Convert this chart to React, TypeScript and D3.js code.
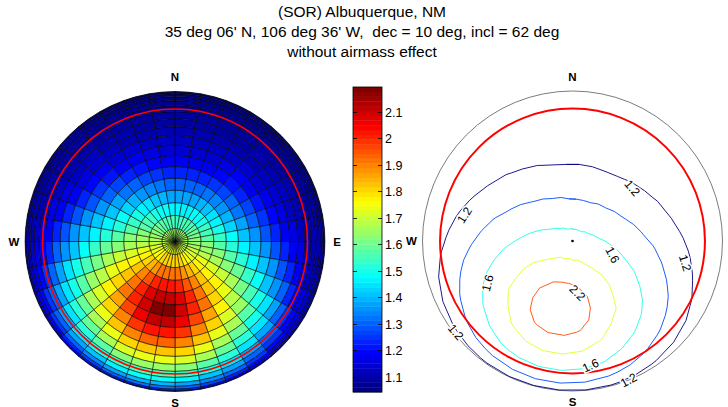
import React, { useEffect, useRef } from 'react'
import * as d3 from 'd3'

// title text
const titleLines = [
  '(SOR) Albuquerque, NM',
  "35 deg 06' N, 106 deg 36' W,  dec = 10 deg, incl = 62 deg",
  'without airmass effect',
]

// magnetic inclination (red circle, zenith angle in deg)
const inclination = 62

// colour limits of the colorbar
const cLimits = [1.043, 2.194]
const colorbarTicks = [1.1, 1.2, 1.3, 1.4, 1.5, 1.6, 1.7, 1.8, 1.9, 2, 2.1]

// contour levels on the right panel
const contourLevels = [1.2, 1.4, 1.6, 1.8, 2.0, 2.2]

// labels on the contour plot: azimuth / zenith angle of the label, rotation
const contourLabels = [
  { text: '1.2', az: 48.5, zen: 32.2, rot: 50 },
  { text: '1.2', az: 283.5, zen: 47.8, rot: -58 },
  { text: '1.2', az: 101, zen: 50, rot: 73 },
  { text: '1.2', az: 232, zen: 80.7, rot: 50 },
  { text: '1.2', az: 158, zen: 89, rot: -28 },
  { text: '1.6', az: 109, zen: 16.4, rot: 62 },
  { text: '1.6', az: 243.7, zen: 39.2, rot: -75 },
  { text: '1.6', az: 171.8, zen: 57, rot: -25 },
  { text: '2.2', az: 174.5, zen: 20.3, rot: 45 },
]

// cell values, one row per 5 deg zenith ring (centre outwards),
// 36 sectors of 10 deg each, clockwise from north
const ring00 = [1.64, 1.64, 1.64, 1.64, 1.64, 1.65, 1.65, 1.66, 1.66, 1.67, 1.68, 1.69, 1.69, 1.70, 1.71, 1.71, 1.72, 1.72, 1.72, 1.72, 1.72, 1.72, 1.71, 1.71, 1.70, 1.69, 1.69, 1.68, 1.67, 1.66, 1.66, 1.65, 1.65, 1.64, 1.64, 1.64]
const ring01 = [1.54, 1.54, 1.55, 1.55, 1.56, 1.58, 1.59, 1.61, 1.63, 1.65, 1.67, 1.70, 1.72, 1.74, 1.76, 1.78, 1.80, 1.80, 1.81, 1.81, 1.80, 1.80, 1.78, 1.76, 1.74, 1.72, 1.70, 1.67, 1.65, 1.63, 1.61, 1.59, 1.58, 1.56, 1.55, 1.55]
const ring02 = [1.46, 1.46, 1.47, 1.48, 1.49, 1.51, 1.53, 1.55, 1.58, 1.62, 1.65, 1.69, 1.73, 1.77, 1.80, 1.84, 1.88, 1.91, 1.92, 1.92, 1.91, 1.88, 1.84, 1.80, 1.77, 1.73, 1.69, 1.65, 1.62, 1.58, 1.55, 1.53, 1.51, 1.49, 1.48, 1.47]
const ring03 = [1.38, 1.38, 1.38, 1.40, 1.41, 1.44, 1.46, 1.50, 1.53, 1.57, 1.62, 1.67, 1.72, 1.78, 1.83, 1.89, 1.95, 2.00, 2.02, 2.02, 2.00, 1.95, 1.89, 1.83, 1.78, 1.72, 1.67, 1.62, 1.57, 1.53, 1.50, 1.46, 1.44, 1.41, 1.40, 1.38]
const ring04 = [1.30, 1.30, 1.31, 1.32, 1.34, 1.36, 1.39, 1.43, 1.48, 1.52, 1.57, 1.63, 1.70, 1.77, 1.83, 1.92, 2.00, 2.07, 2.11, 2.11, 2.07, 2.00, 1.92, 1.83, 1.77, 1.70, 1.63, 1.57, 1.52, 1.48, 1.43, 1.39, 1.36, 1.34, 1.32, 1.31]
const ring05 = [1.24, 1.24, 1.24, 1.25, 1.27, 1.30, 1.33, 1.37, 1.41, 1.47, 1.52, 1.59, 1.66, 1.73, 1.81, 1.91, 2.00, 2.09, 2.18, 2.18, 2.09, 2.00, 1.91, 1.81, 1.73, 1.66, 1.59, 1.52, 1.47, 1.41, 1.37, 1.33, 1.30, 1.27, 1.25, 1.24]
const ring06 = [1.18, 1.18, 1.18, 1.19, 1.21, 1.24, 1.27, 1.31, 1.35, 1.41, 1.47, 1.54, 1.61, 1.69, 1.78, 1.87, 1.97, 2.06, 2.12, 2.12, 2.06, 1.97, 1.87, 1.78, 1.69, 1.61, 1.54, 1.47, 1.41, 1.35, 1.31, 1.27, 1.24, 1.21, 1.19, 1.18]
const ring07 = [1.15, 1.15, 1.15, 1.16, 1.17, 1.18, 1.21, 1.25, 1.29, 1.35, 1.41, 1.48, 1.56, 1.64, 1.72, 1.80, 1.90, 1.99, 2.03, 2.03, 1.99, 1.90, 1.80, 1.72, 1.64, 1.56, 1.48, 1.41, 1.35, 1.29, 1.25, 1.21, 1.18, 1.17, 1.16, 1.15]
const ring08 = [1.12, 1.12, 1.12, 1.13, 1.14, 1.15, 1.17, 1.19, 1.24, 1.29, 1.35, 1.42, 1.50, 1.58, 1.66, 1.74, 1.82, 1.89, 1.94, 1.94, 1.89, 1.82, 1.74, 1.66, 1.58, 1.50, 1.42, 1.35, 1.29, 1.24, 1.19, 1.17, 1.15, 1.14, 1.13, 1.12]
const ring09 = [1.10, 1.10, 1.10, 1.11, 1.11, 1.12, 1.14, 1.16, 1.18, 1.24, 1.29, 1.36, 1.44, 1.51, 1.59, 1.67, 1.74, 1.80, 1.83, 1.83, 1.80, 1.74, 1.67, 1.59, 1.51, 1.44, 1.36, 1.29, 1.24, 1.18, 1.16, 1.14, 1.12, 1.11, 1.11, 1.10]
const ring10 = [1.09, 1.09, 1.09, 1.09, 1.10, 1.10, 1.12, 1.13, 1.16, 1.18, 1.24, 1.30, 1.37, 1.45, 1.52, 1.59, 1.66, 1.71, 1.74, 1.74, 1.71, 1.66, 1.59, 1.52, 1.45, 1.37, 1.30, 1.24, 1.18, 1.16, 1.13, 1.12, 1.10, 1.10, 1.09, 1.09]
const ring11 = [1.08, 1.08, 1.08, 1.08, 1.09, 1.09, 1.10, 1.11, 1.13, 1.16, 1.18, 1.24, 1.31, 1.38, 1.45, 1.52, 1.58, 1.62, 1.64, 1.64, 1.62, 1.58, 1.52, 1.45, 1.38, 1.31, 1.24, 1.18, 1.16, 1.13, 1.11, 1.10, 1.09, 1.09, 1.08, 1.08]
const ring12 = [1.07, 1.07, 1.07, 1.07, 1.08, 1.08, 1.09, 1.10, 1.11, 1.13, 1.16, 1.19, 1.25, 1.31, 1.38, 1.45, 1.50, 1.54, 1.56, 1.56, 1.54, 1.50, 1.45, 1.38, 1.31, 1.25, 1.19, 1.16, 1.13, 1.11, 1.10, 1.09, 1.08, 1.08, 1.07, 1.07]
const ring13 = [1.07, 1.07, 1.07, 1.07, 1.07, 1.07, 1.08, 1.09, 1.10, 1.11, 1.13, 1.16, 1.20, 1.25, 1.31, 1.37, 1.42, 1.46, 1.48, 1.48, 1.46, 1.42, 1.37, 1.31, 1.25, 1.20, 1.16, 1.13, 1.11, 1.10, 1.09, 1.08, 1.07, 1.07, 1.07, 1.07]
const ring14 = [1.06, 1.06, 1.06, 1.06, 1.06, 1.07, 1.07, 1.08, 1.09, 1.10, 1.11, 1.14, 1.16, 1.20, 1.25, 1.30, 1.34, 1.37, 1.39, 1.39, 1.37, 1.34, 1.30, 1.25, 1.20, 1.16, 1.14, 1.11, 1.10, 1.09, 1.08, 1.07, 1.07, 1.06, 1.06, 1.06]
const ring15 = [1.06, 1.06, 1.06, 1.06, 1.06, 1.06, 1.07, 1.07, 1.08, 1.09, 1.10, 1.11, 1.14, 1.16, 1.19, 1.23, 1.27, 1.30, 1.32, 1.32, 1.30, 1.27, 1.23, 1.19, 1.16, 1.14, 1.11, 1.10, 1.09, 1.08, 1.07, 1.07, 1.06, 1.06, 1.06, 1.06]
const ring16 = [1.05, 1.05, 1.05, 1.05, 1.05, 1.06, 1.06, 1.07, 1.07, 1.08, 1.09, 1.10, 1.11, 1.14, 1.16, 1.18, 1.21, 1.23, 1.24, 1.24, 1.23, 1.21, 1.18, 1.16, 1.14, 1.11, 1.10, 1.09, 1.08, 1.07, 1.07, 1.06, 1.06, 1.05, 1.05, 1.05]
const ring17 = [1.04, 1.04, 1.05, 1.05, 1.05, 1.05, 1.06, 1.06, 1.07, 1.07, 1.08, 1.09, 1.10, 1.11, 1.13, 1.15, 1.17, 1.18, 1.18, 1.18, 1.18, 1.17, 1.15, 1.13, 1.11, 1.10, 1.09, 1.08, 1.07, 1.07, 1.06, 1.06, 1.05, 1.05, 1.05, 1.05]

const rings = [ring00, ring01, ring02, ring03, ring04, ring05, ring06, ring07, ring08,
  ring09, ring10, ring11, ring12, ring13, ring14, ring15, ring16, ring17]

const ZEN_STEP = 5
const AZ_STEP = 10

const W = 728
const H = 407
const R = 150
const leftC = { cx: 175, cy: 241.5 }
const rightC = { cx: 572.5, cy: 241 }
const bar = { x: 353, y: 87, w: 29, h: 305 }
const font = 'Liberation Sans, Arial, sans-serif'

const toRad = (d: number) => d * Math.PI / 180

// MATLAB jet
const jet = (t: number) => {
  const c = (v: number) => Math.max(0, Math.min(1, v)) * 255
  return d3.rgb(c(1.5 - Math.abs(4 * t - 3)), c(1.5 - Math.abs(4 * t - 2)), c(1.5 - Math.abs(4 * t - 1))).formatHex()
}

const App = () => {
  const svgRef = useRef<SVGSVGElement>(null)

  useEffect(() => {
    const svg = d3.select(svgRef.current)
    svg.selectAll('*').remove()

    // orthographic projection: radius = R * sin(zenith)
    const rScale = d3.scaleLinear().domain([0, 1]).range([0, R])
    const rad = (zen: number) => rScale(Math.sin(toRad(zen)))
    const project = (c: { cx: number, cy: number }, az: number, zen: number): [number, number] =>
      [c.cx + rad(zen) * Math.sin(toRad(az)), c.cy - rad(zen) * Math.cos(toRad(az))]

    const jet64 = d3.range(64).map(i => jet(i / 63))
    const color = d3.scaleQuantize<string>().domain(cLimits).range(jet64)

    // Title
    svg.append('g').selectAll('text').data(titleLines).join('text')
      .attr('x', 362)
      .attr('y', (d, i) => 17 + i * 20)
      .attr('text-anchor', 'middle')
      .style('white-space', 'pre')
      .style('font-family', font)
      .style('font-size', '15.5px')
      .text(d => d)

    // Left: polar surface
    const gl = svg.append('g').attr('transform', `translate(${leftC.cx},${leftC.cy})`)
    const arc = d3.arc()
    rings.forEach((row, i) => {
      row.forEach((v, j) => {
        gl.append('path')
          .attr('d', arc({
            innerRadius: rad(i * ZEN_STEP),
            outerRadius: rad((i + 1) * ZEN_STEP),
            startAngle: toRad(j * AZ_STEP),
            endAngle: toRad((j + 1) * AZ_STEP),
          } as any))
          .attr('fill', color(v))
          .attr('stroke', '#000')
          .attr('stroke-width', 0.55)
      })
    })
    gl.append('circle').attr('r', rad(inclination))
      .attr('fill', 'none').attr('stroke', '#ff0000').attr('stroke-width', 1.6)

    // compass labels
    const compass = (c: { cx: number, cy: number }, withE: boolean) => {
      const items = [
        { t: 'N', x: c.cx, y: c.cy - 160.5 },
        { t: 'S', x: c.cx, y: c.cy + 165 },
        { t: 'W', x: c.cx - 161, y: c.cy + 4 },
      ]
      if (withE) items.push({ t: 'E', x: c.cx + 162, y: c.cy + 4 })
      svg.append('g').selectAll('text').data(items).join('text')
        .attr('x', d => d.x).attr('y', d => d.y)
        .attr('text-anchor', 'middle')
        .style('font-family', font)
        .style('font-weight', 'bold')
        .style('font-size', '11.5px')
        .text(d => d.t)
    }
    compass(leftC, true)
    compass(rightC, false)

    // Colorbar
    const yBar = d3.scaleLinear().domain(cLimits).range([bar.y + bar.h, bar.y])
    const gb = svg.append('g')
    const step = (cLimits[1] - cLimits[0]) / 64
    gb.selectAll('rect.c').data(jet64).join('rect')
      .attr('x', bar.x)
      .attr('y', (d, i) => yBar(cLimits[0] + (i + 1) * step))
      .attr('width', bar.w)
      .attr('height', yBar(cLimits[0]) - yBar(cLimits[0] + step) + 0.4)
      .attr('fill', d => d)
    gb.append('rect').attr('x', bar.x).attr('y', bar.y).attr('width', bar.w).attr('height', bar.h)
      .attr('fill', 'none').attr('stroke', '#000').attr('stroke-width', 0.8)
    colorbarTicks.forEach(t => {
      const y = Math.round(yBar(t)) + 0.5
      gb.append('line').attr('x1', bar.x).attr('x2', bar.x + 4).attr('y1', y).attr('y2', y)
        .attr('stroke', '#000').attr('stroke-width', 0.8)
      gb.append('line').attr('x1', bar.x + bar.w - 4).attr('x2', bar.x + bar.w).attr('y1', y).attr('y2', y)
        .attr('stroke', '#000').attr('stroke-width', 0.8)
      gb.append('text').attr('x', bar.x + bar.w + 3).attr('y', y + 4.5)
        .style('font-family', font).style('font-size', '12.5px')
        .text(String(t))
    })

    // Right: contour plot
    const gr = svg.append('g')
    gr.append('circle').attr('cx', rightC.cx).attr('cy', rightC.cy).attr('r', R)
      .attr('fill', 'none').attr('stroke', '#444').attr('stroke-width', 0.7)

    // grid in (azimuth, zenith) space, wrapped one sector on each side
    const nx = 38
    const ny = rings.length
    const grid: number[] = []
    for (let i = 0; i < ny; i++) for (let c = 0; c < nx; c++) grid.push(rings[i][(c + 35) % 36])
    const contours = d3.contours().size([nx, ny]).thresholds(contourLevels)(grid)
    const onEdge = ([x, y]: number[]) => x <= 0 || x >= nx || y <= 0 || y >= ny
    const splitRing = (ring: number[][]) => {
      const segs: number[][][] = []
      let cur: number[][] = []
      ring.forEach(p => {
        if (onEdge(p)) { if (cur.length > 1) segs.push(cur); cur = [] } else cur.push(p)
      })
      if (cur.length > 1) segs.push(cur)
      if (ring.some(onEdge) && segs.length > 1 && !onEdge(ring[0]) && !onEdge(ring[ring.length - 1])) {
        const last = segs.pop() as number[][]
        segs[0] = last.concat(segs[0].slice(1))
      }
      return segs
    }
    const lineColor = (v: number) => jet((v - contourLevels[0]) / (contourLevels[contourLevels.length - 1] - contourLevels[0]))
    const line = d3.line()
    contours.forEach(ct => {
      ct.coordinates.forEach(poly => poly.forEach(ring => {
        splitRing(ring as number[][]).forEach(seg => {
          const pts = seg.map(([x, y]) => project(rightC, AZ_STEP * (x - 1), ZEN_STEP * y))
          gr.append('path').attr('d', line(pts))
            .attr('fill', 'none')
            .attr('stroke', lineColor(ct.value))
            .attr('stroke-width', 0.9)
        })
      }))
    })

    gr.append('circle').attr('cx', rightC.cx).attr('cy', rightC.cy).attr('r', rad(inclination))
      .attr('fill', 'none').attr('stroke', '#ff0000').attr('stroke-width', 2)
    gr.append('circle').attr('cx', rightC.cx).attr('cy', rightC.cy).attr('r', 1.3).attr('fill', '#000')

    contourLabels.forEach(l => {
      const [x, y] = project(rightC, l.az, l.zen)
      gr.append('text')
        .attr('transform', `translate(${x},${y}) rotate(${l.rot})`)
        .attr('text-anchor', 'middle')
        .attr('dy', '0.35em')
        .style('font-family', font)
        .style('font-size', '12px')
        .style('paint-order', 'stroke')
        .attr('stroke', '#fff')
        .attr('stroke-width', 3)
        .attr('fill', '#000')
        .text(l.text)
    })
  }, [])

  return <svg ref={svgRef} width={W} height={H}
    style={{ position: 'absolute', left: 0, top: 0, background: '#fff', display: 'block' }} />
}

export default App
